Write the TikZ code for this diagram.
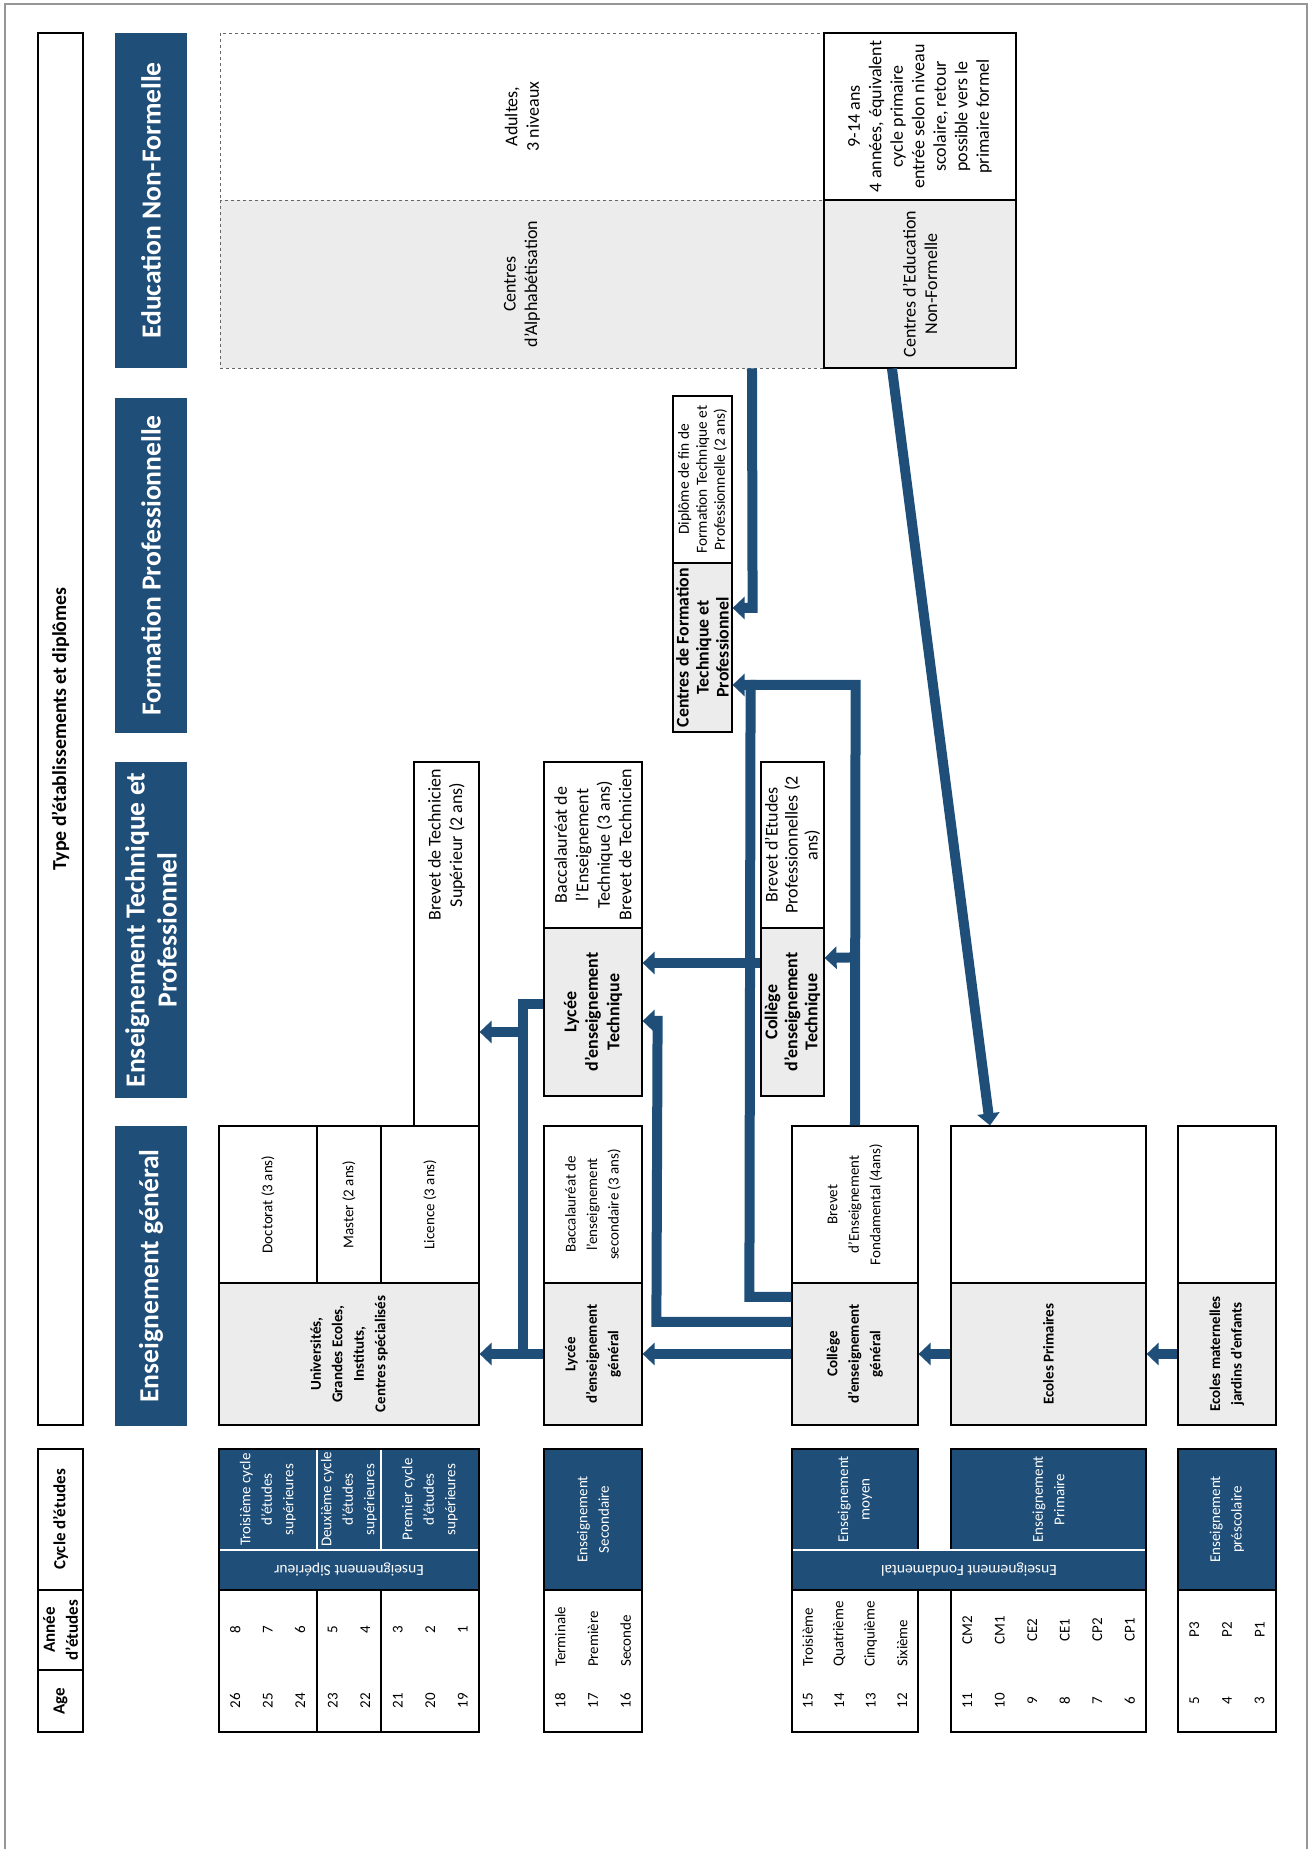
\documentclass[tikz,border=0pt]{standalone}
\usepackage{fontspec}
\setmainfont{Carlito}
\usetikzlibrary{arrows.meta,calc}

\definecolor{eduBlue}{RGB}{31,78,121}
\definecolor{cellGray}{RGB}{236,236,236}
\definecolor{frameGray}{RGB}{150,150,150}

\newcommand{\txtfont}{\fontsize{18}{21.5}\selectfont}
\newcommand{\tightfont}{\fontsize{18}{20}\selectfont}
\newcommand{\genfont}{\fontsize{15}{21.5}\selectfont}
\newcommand{\smallfont}{\fontsize{15.4}{18}\selectfont}
\newcommand{\headfont}{\fontsize{27.6}{32}\selectfont\bfseries}
\newcommand{\labfont}{\fontsize{17}{23}\selectfont\bfseries}

\tikzset{
  cell/.style={draw, line width=1.2pt, inner sep=0pt, align=center, font=\txtfont},
  gcell/.style={cell, font=\genfont},
  inst/.style={cell, fill=cellGray, font=\genfont\bfseries},
  head/.style={fill=eduBlue, text=white, inner sep=0pt, align=center, font=\headfont},
  cyc/.style={cell, fill=eduBlue},
  cyctxt/.style={text=white, inner sep=0pt, align=center, font=\genfont},
  dashbox/.style={cell, draw=black!60, dashed, line width=0.8pt},
  yr/.style={inner sep=0pt, font=\genfont},
  arr/.style={draw=eduBlue, line width=10pt, -{Triangle[width=22pt,length=12pt]}},
  link/.style={draw=eduBlue, line width=10pt},
}

\begin{document}
\begin{tikzpicture}[x=1pt, y=1pt, rotate=90, transform shape]
\useasboundingbox (0,0) rectangle (1849,1314);
% frame
\draw[frameGray, line width=1.5pt] (0,1309) -- (1845,1309) -- (1845,7) -- (0,7);

% header row
\node[cell, font=\labfont, minimum width=62pt, minimum height=45pt] (hAge) at (148,1253.5) {Age};
\node[cell, font=\labfont, minimum width=80pt, minimum height=45pt] (hAnnee) at (219,1253.5) {Année\\d'études};
\node[cell, font=\labfont, minimum width=141pt, minimum height=45pt] (hCycle) at (329.5,1253.5) {Cycle d'études};
\node[cell, font=\fontsize{19.8}{23}\selectfont\bfseries, minimum width=1392pt, minimum height=45pt] (hType) at (1120,1253.5) {Type d'établissements et diplômes};

\node[head, minimum width=300pt, minimum height=72pt] (bGen) at (573,1163) {Enseignement général};
\node[head, minimum width=336pt, minimum height=72pt] (bTech) at (919,1163) {Enseignement Technique et\\Professionnel};
\node[head, minimum width=335pt, minimum height=72pt] (bForm) at (1283.5,1163) {Formation Professionnelle};
\node[head, minimum width=335pt, minimum height=72pt] (bNonf) at (1648.5,1163) {Education Non-Formelle};

% superieur
\node[cell, minimum width=142pt, minimum height=260pt] (tab1) at (188,965) {};
\node[cyc, minimum width=141pt, minimum height=260pt] (cyc1) at (329.5,965) {};
\draw[line width=1.2pt] (117,997) -- (259,997) (117,933) -- (259,933);
\draw[white, line width=1.5pt] (299,836) -- (299,1094) (300,997) -- (399,997) (300,933) -- (399,933);
\node[cyctxt] (c1a) at (349.5,1046) {Troisième cycle\\d'études\\supérieures};
\node[cyctxt] (c1b) at (349.5,965) {Deuxième cycle\\d'études\\supérieures};
\node[cyctxt] (c1c) at (349.5,884) {Premier cycle\\d'études\\supérieures};
\node[cyctxt, font=\fontsize{15.5}{18}\selectfont, rotate=90] (bandSup) at (279,965) {Enseignement Sipérieur};
\foreach \a/\b [count=\i] in {26/8,25/7,24/6,23/5,22/4,21/3,20/2,19/1} {
  \node[yr] (age\a) at (148,{1095-32.5*(\i-0.5)}) {\a};
  \node[yr] (an\a) at (219,{1095-32.5*(\i-0.5)}) {\b};
}
\node[inst, minimum width=142pt, minimum height=260pt] (univ) at (495,965) {Universités,\\Grandes Ecoles,\\Instituts,\\Centres spécialisés};
\node[gcell, minimum width=157pt, minimum height=98pt] (doct) at (644.5,1046) {Doctorat (3 ans)};
\node[gcell, minimum width=157pt, minimum height=64pt] (mast) at (644.5,965) {Master (2 ans)};
\node[gcell, minimum width=157pt, minimum height=98pt] (lic) at (644.5,884) {Licence (3 ans)};
\node[cell, minimum width=364pt, minimum height=65pt] (bts) at (905,867.5) {};
\node[inner sep=0pt, align=center, font=\txtfont] (btstxt) at (1004,867.5) {Brevet de Technicien\\Supérieur (2 ans)};

% secondaire
\node[cell, minimum width=142pt, minimum height=98pt] (tab2) at (188,721) {};
\node[cyc, minimum width=141pt, minimum height=98pt] (cyc2) at (329.5,721) {};
\node[cyctxt] (c2) at (329.5,721) {Enseignement\\Secondaire};
\foreach \a/\b [count=\i] in {18/Terminale,17/Première,16/Seconde} {
  \node[yr] (age\a) at (148,{770-32.67*(\i-0.5)}) {\a};
  \node[yr, anchor=west] (an\a) at (182,{770-32.67*(\i-0.5)}) {\b};
}
\node[inst, minimum width=142pt, minimum height=98pt] (lycg) at (495,721) {Lycée\\d'enseignement\\général};
\node[gcell, minimum width=157pt, minimum height=98pt] (bacg) at (644.5,721) {Baccalauréat de\\l'enseignement\\secondaire (3 ans)};
\node[inst, font=\txtfont\bfseries, minimum width=168pt, minimum height=98pt] (lyct) at (837,721) {Lycée\\d'enseignement\\Technique};
\node[cell, minimum width=166pt, minimum height=98pt] (bact) at (1004,721) {Baccalauréat de\\l'Enseignement\\Technique (3 ans)\\Brevet de Technicien};

% fondamental
\node[cell, minimum width=142pt, minimum height=126pt] (tab3) at (188,459) {};
\node[cell, minimum width=142pt, minimum height=195pt] (tab4) at (188,265.5) {};
\node[cyc, minimum width=101pt, minimum height=126pt] (cyc3) at (349.5,459) {};
\node[cyc, minimum width=101pt, minimum height=195pt] (cyc4) at (349.5,265.5) {};
\node[cyc, minimum width=40pt, minimum height=354pt] (fond) at (279,345) {};
\draw[white, line width=1.5pt] (299,169) -- (299,521);
\node[cyctxt] (c3) at (349.5,459) {Enseignement\\moyen};
\node[cyctxt] (c4) at (349.5,265.5) {Enseignement\\Primaire};
\node[cyctxt, font=\fontsize{15.5}{18}\selectfont, rotate=90] (bandFond) at (279,345) {Enseignement Fondamental};
\foreach \a/\b [count=\i] in {15/Troisième,14/Quatrième,13/Cinquième,12/Sixième} {
  \node[yr] (age\a) at (148,{522-31.5*(\i-0.5)}) {\a};
  \node[yr, anchor=west] (an\a) at (182,{522-31.5*(\i-0.5)}) {\b};
}
\foreach \a/\b [count=\i] in {11/CM2,10/CM1,9/CE2,8/CE1,7/CP2,6/CP1} {
  \node[yr] (age\a) at (148,{363-32.5*(\i-0.5)}) {\a};
  \node[yr] (an\a) at (219,{363-32.5*(\i-0.5)}) {\b};
}
\node[inst, minimum width=142pt, minimum height=126pt] (colg) at (495,459) {Collège\\d'enseignement\\général};
\node[gcell, minimum width=157pt, minimum height=126pt] (bf) at (644.5,459) {Brevet\\d'Enseignement\\Fondamental (4ans)};
\node[inst, font=\tightfont\bfseries, minimum width=168pt, minimum height=63pt] (colt) at (837,521.5) {Collège\\d'enseignement\\Technique};
\node[cell, font=\tightfont, minimum width=166pt, minimum height=63pt] (bep) at (1004,521.5) {Brevet d'Etudes\\Professionnelles (2\\ans)};
\node[inst, minimum width=142pt, minimum height=195pt] (prim) at (495,265.5) {Ecoles Primaires};
\node[gcell, minimum width=157pt, minimum height=195pt] (primd) at (644.5,265.5) {};

% prescolaire
\node[cell, minimum width=142pt, minimum height=98pt] (tab5) at (188,87) {};
\node[cyc, minimum width=141pt, minimum height=98pt] (cyc5) at (329.5,87) {};
\node[cyctxt] (c5) at (329.5,87) {Enseignement\\préscolaire};
\foreach \a/\b [count=\i] in {5/P3,4/P2,3/P1} {
  \node[yr] (age\a) at (148,{136-32.67*(\i-0.5)}) {\a};
  \node[yr] (an\a) at (219,{136-32.67*(\i-0.5)}) {\b};
}
\node[inst, minimum width=142pt, minimum height=98pt] (mat) at (495,87) {Ecoles maternelles\\jardins d'enfants};
\node[gcell, minimum width=157pt, minimum height=98pt] (matd) at (644.5,87) {};

% formation professionnelle
\node[inst, font=\fontsize{17.8}{20}\selectfont\bfseries, minimum width=169pt, minimum height=59pt] (cft) at (1201.5,611.5) {Centres de Formation\\Technique et\\Professionnel};
\node[cell, font=\smallfont, minimum width=167pt, minimum height=59pt] (dft) at (1369.5,611.5) {Diplôme de fin de\\Formation Technique et\\Professionnelle (2 ans)};

% non formelle
\node[dashbox, fill=white, minimum width=167pt, minimum height=604pt] (adul) at (1732.5,792) {Adultes,\\3 niveaux};
\node[dashbox, fill=cellGray, minimum width=168pt, minimum height=604pt] (alph) at (1565,792) {Centres\\d'Alphabétisation};
\node[cell, fill=white, minimum width=167pt, minimum height=192pt] (enfd) at (1732.5,394) {9-14 ans\\4 années, équivalent\\cycle primaire\\entrée selon niveau\\scolaire, retour\\possible vers le\\primaire formel};
\node[cell, fill=cellGray, minimum width=168pt, minimum height=192pt] (cenf) at (1565,394) {Centres d'Education\\Non-Formelle};

% passerelles
\draw[arr] (mat.north) -- (prim.south);
\draw[arr] (prim.north) -- (colg.south);
\draw[arr] (colg.north) -- (lycg.south);
\draw[arr] (lycg.north) -- (univ.south);
\draw[arr] ($(colg.north)+(32,0)$) -- ++(0,135) -- ($(lyct.south)+(-9,-15)$) -- ($(lyct.south)+(-9,0)$);
\draw[arr] ($(colg.north)+(57,0)$) -- ++(0,42) -- ($(cft.south)+(-37.5,-18)$) -- ($(cft.south)+(-37.5,0)$);
\draw[link] (bf.east) -- ($(cft.south)+(-37.5,-123)$) -- ($(cft.south)+(-37.5,-18)$);
\draw[arr] ($(bf.east)+(168,0)$) -- ($(colt.south)+(54,0)$);
\draw[arr] ($(colt.north)+(49,0)$) -- ($(lyct.south)+(49,0)$);
\draw[link] ($(lyct.north)+(8,0)$) -- ++(0,20) -- ($(lycg.north)+(0,20)$);
\draw[arr] ($(lycg.north)+(322,20)$) -- ($(bts.south)+(-88,0)$);
\draw[arr] ($(alph.west)+(0,-230)$) -- ($(cft.south)+(39.5,-20)$) -- ($(cft.south)+(39.5,0)$);
\draw[arr] ($(cenf.west)+(0,28)$) -- ($(primd.east)+(0,58.5)$);
\end{tikzpicture}
\end{document}
